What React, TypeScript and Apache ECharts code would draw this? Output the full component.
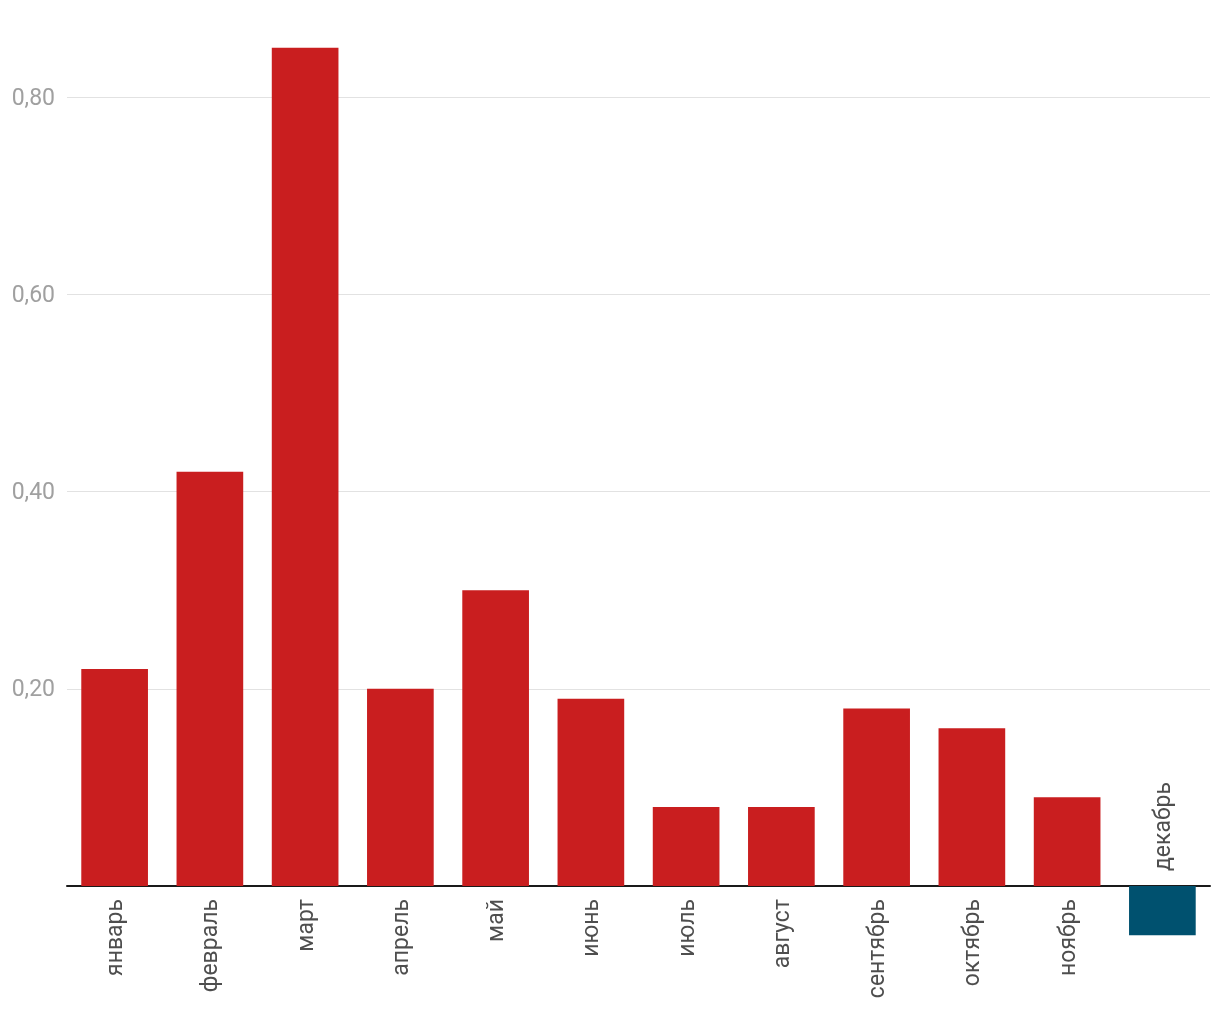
import React, { useEffect, useRef } from "react";
import * as echarts from "echarts";

const months = ["январь", "февраль", "март", "апрель", "май", "июнь", "июль", "август", "сентябрь", "октябрь", "ноябрь", "декабрь"];
const values = [0.22, 0.42, 0.85, 0.2, 0.3, 0.19, 0.08, 0.08, 0.18, 0.16, 0.09, -0.05];
const yMin = -0.06;
const yMax = 0.88;
const positiveColor = "#c91e1f";
const negativeColor = "#00516f";

export default function App() {
  const ref = useRef<HTMLDivElement>(null);
  useEffect(() => {
    if (!ref.current) return;
    const chart = echarts.init(ref.current, undefined, { renderer: "svg" });
    const labelBase = { fontSize: 23, color: "#222", fontFamily: "Roboto", rotate: 90, verticalAlign: "middle" };
    chart.setOption({
      animation: false,
      textStyle: { fontFamily: "Roboto" },
      grid: { left: 67, right: 10, top: 18.1, bottom: 74.8, containLabel: false },
      xAxis: {
        type: "category",
        data: months,
        axisLine: { onZero: true, lineStyle: { color: "#1a1a1a", width: 2 } },
        axisTick: { show: false },
        axisLabel: { show: false },
      },
      yAxis: {
        type: "value",
        min: yMin,
        max: yMax,
        splitNumber: 5,
        axisLine: { show: false },
        axisTick: { show: false },
        splitLine: { showMinLine: false, showMaxLine: false, lineStyle: { color: "#e2e2e2", width: 1 } },
        axisLabel: {
          margin: 12,
          fontSize: 23,
          color: "#a0a0a0",
          fontFamily: "Roboto",
          showMinLabel: false,
          showMaxLabel: false,
          formatter: (v: number) => {
            if (Math.abs(v) < 1e-9 || v < 0) return "";
            return v.toFixed(2).replace(".", ",");
          },
        },
      },
      series: [
        {
          type: "bar",
          barCategoryGap: "30%",
          data: values.map((v) => ({ value: v, itemStyle: { color: v < 0 ? negativeColor : positiveColor } })),
        },
        {
          type: "scatter",
          symbolSize: 0,
          silent: true,
          z: 5,
          data: months.map((m, i) => ({
            value: [m, 0],
            label:
              values[i] < 0
                ? { ...labelBase, show: true, position: "top", align: "left", distance: 15 }
                : { ...labelBase, show: true, position: "bottom", align: "right", distance: 13 },
          })),
          label: { show: true, formatter: (p: any) => p.value[0] },
        },
      ],
    });
    return () => chart.dispose();
  }, []);
  return <div ref={ref} style={{ position: "fixed", left: 0, top: 0, width: 1220, height: 1020 }} />;
}
